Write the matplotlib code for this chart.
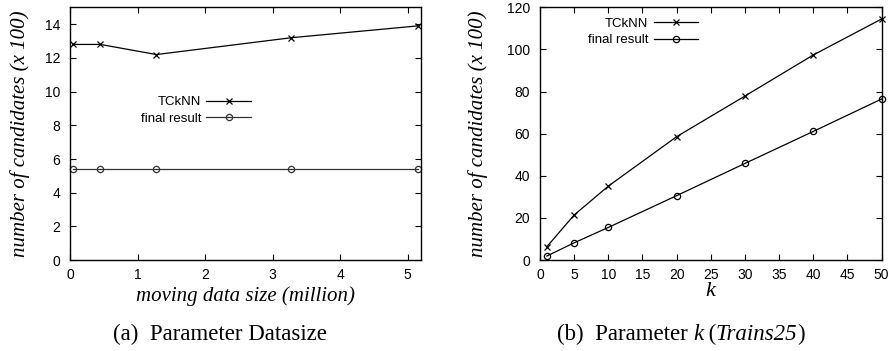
import matplotlib
matplotlib.use("Agg")
import matplotlib.pyplot as plt
from matplotlib.text import Annotation

# (a) data size experiment
size_x = [0.04, 0.45, 1.28, 3.28, 5.15]
size_tcknn = [12.8, 12.8, 12.2, 13.2, 13.9]
size_final = [5.4, 5.4, 5.4, 5.4, 5.4]

# (b) parameter k experiment
k_x = [1, 5, 10, 20, 30, 40, 50]
k_tcknn = [6.3, 21.4, 35.1, 58.6, 77.9, 97.4, 114.5]
k_final = [1.9, 8.2, 15.5, 30.6, 45.9, 61.1, 76.5]

series_names = ["TCkNN", "final result"]

plt.rcParams["font.family"] = ["Liberation Sans", "DejaVu Sans"]

SERIF = ["Liberation Serif", "DejaVu Serif"]
TICK_FS = 10
LABEL_FS = 15
CAP_FS = 16.5


def style_axes(ax):
    ax.tick_params(direction="in", top=True, right=True, length=4,
                   width=0.8, labelsize=TICK_FS)
    ax.tick_params(axis="y", pad=7)
    ax.tick_params(axis="x", pad=6)
    for s in ax.spines.values():
        s.set_linewidth(1.0)


def add_legend(ax, anchor):
    ax.legend(loc="upper right", bbox_to_anchor=anchor, frameon=False,
              markerfirst=False, fontsize=9.5, handlelength=3.4,
              borderpad=0, labelspacing=0.3, handletextpad=0.4)


fig = plt.figure(figsize=(8.91, 3.51), dpi=100)

# --- left panel ---
ax1 = fig.add_axes([0.0786, 0.259, 0.394, 0.72])
ax1.plot(size_x, size_tcknn, color="black", lw=0.9, marker="x", ms=5,
         mew=0.9, label=series_names[0], clip_on=False)
ax1.plot(size_x, size_final, color="#333333", lw=0.9, marker="o", ms=4.5,
         mfc="none", mew=0.9, label=series_names[1], clip_on=False)
ax1.set_xlim(0, 5.2)
ax1.set_ylim(0, 15)
ax1.set_xticks([0, 1, 2, 3, 4, 5])
ax1.set_yticks(range(0, 15, 2))
style_axes(ax1)
ax1.set_ylabel("number of candidates (x 100)", family=SERIF, style="italic",
               fontsize=LABEL_FS)
ax1.yaxis.set_label_coords(-0.115, 0.5)
ax1.set_xlabel("moving data size (million)", family=SERIF, style="italic",
               fontsize=LABEL_FS, labelpad=3)
add_legend(ax1, (0.535, 0.675))

# --- right panel ---
ax2 = fig.add_axes([0.606, 0.259, 0.3835, 0.72])
ax2.plot(k_x, k_tcknn, color="black", lw=0.9, marker="x", ms=5,
         mew=0.9, label=series_names[0], clip_on=False)
ax2.plot(k_x, k_final, color="black", lw=0.9, marker="o", ms=4.5,
         mfc="none", mew=0.9, label=series_names[1], clip_on=False)
ax2.set_xlim(0, 50)
ax2.set_ylim(0, 120)
ax2.set_xticks(range(0, 51, 5))
ax2.set_yticks(range(0, 121, 20))
style_axes(ax2)
ax2.set_ylabel("number of candidates (x 100)", family=SERIF, style="italic",
               fontsize=LABEL_FS)
ax2.yaxis.set_label_coords(-0.153, 0.5)
ax2.set_xlabel("k", family=SERIF, style="italic", fontsize=LABEL_FS + 1,
               labelpad=0)
add_legend(ax2, (0.483, 0.985))

# captions
fig.text(0.247, 0.03, "(a)  Parameter Datasize", family=SERIF,
         fontsize=CAP_FS, ha="center", va="baseline")

# caption (b): roman and italic pieces chained one after another
pieces = [("(b)  Parameter ", "normal"), ("k", "italic"), ("\u2009(", "normal"),
          ("Trains25", "italic"), (")", "normal")]
prev = fig.text(0.625, 0.03, pieces[0][0], family=SERIF, fontsize=CAP_FS,
                ha="left", va="baseline")
for s, st in pieces[1:]:
    prev = fig.add_artist(Annotation(s, xy=(1, 0), xycoords=prev,
                                     ha="left", va="bottom", family=SERIF,
                                     style=st, fontsize=CAP_FS))

fig.savefig("out.png", dpi=100)
